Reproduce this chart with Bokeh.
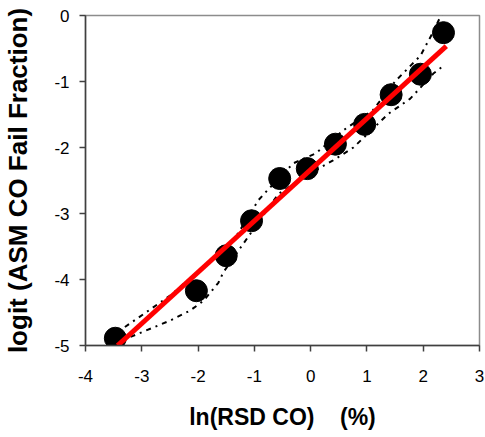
from bokeh.plotting import figure
from bokeh.models import Range1d, FixedTicker
from bokeh.embed import file_html
from bokeh.resources import INLINE

# data points
x_pts = [-3.47, -2.03, -1.50, -1.05, -0.55, -0.06, 0.44, 0.96, 1.43, 1.95, 2.36]
y_pts = [-4.89, -4.17, -3.64, -3.11, -2.47, -2.32, -1.95, -1.65, -1.20, -0.89, -0.26]

# fitted line
fit_x = [-3.43, 2.41]
fit_y = [-5.00, -0.465]

# confidence bands
upper_x = [-3.30, -2.49, -1.37, -0.93, -0.77, -0.31, 0.09, 0.58, 1.10, 1.51, 1.95, 2.17, 2.36]
upper_y = [-4.72, -4.24, -3.41, -2.80, -2.65, -2.24, -2.09, -1.74, -1.44, -0.99, -0.61, -0.26, 0.08]
lower_x = [-3.20, -2.49, -2.14, -1.90, -1.64, -1.55, -1.19, -0.57, 0.18, 0.39, 0.76, 1.38, 1.77, 2.18, 2.36]
lower_y = [-4.87, -4.62, -4.47, -4.32, -4.05, -3.89, -3.45, -2.70, -2.30, -2.20, -2.00, -1.49, -1.26, -0.88, -0.76]

x_ticks = [-4, -3, -2, -1, 0, 1, 2, 3]
x_labels = ["-4", "-3", "-2", "-1", "0", "1", "2", "3"]
y_ticks = [-5, -4, -3, -2, -1, 0]
y_labels = ["-5", "-4", "-3", "-2", "-1", "0"]

FONT = "Liberation Sans"

p = figure(width=485, height=437, output_backend="svg", toolbar_location=None,
           x_range=Range1d(-4, 3), y_range=Range1d(-5, 0),
           min_border_left=85, min_border_right=6, min_border_top=15, min_border_bottom=92)

p.background_fill_color = "white"
p.border_fill_color = "white"
p.outline_line_color = "#8c8c8c"
p.outline_line_width = 1.5
p.grid.visible = False

p.line(upper_x, upper_y, line_color="black", line_width=2, line_dash="5 5 2 5")
p.line(lower_x, lower_y, line_color="black", line_width=2, line_dash="5 5 2 5")
p.scatter(x_pts, y_pts, size=22, fill_color="black", line_color="black")
p.line(fit_x, fit_y, line_color="#ff0000", line_width=5)

for ax in (p.xaxis[0], p.yaxis[0]):
    ax.axis_line_color = "#404040"
    ax.axis_line_width = 1.5
    ax.major_tick_line_color = "#404040"
    ax.major_tick_line_width = 1.5
    ax.major_tick_out = 6
    ax.major_tick_in = 0
    ax.minor_tick_line_color = None
    ax.major_label_text_font = FONT
    ax.major_label_text_font_size = "17px"
    ax.major_label_text_color = "black"
    ax.axis_label_text_font = FONT
    ax.axis_label_text_font_style = "bold"
    ax.axis_label_text_color = "black"

p.xaxis[0].ticker = FixedTicker(ticks=x_ticks)
p.yaxis[0].ticker = FixedTicker(ticks=y_ticks)
p.xaxis[0].major_label_overrides = {t: s for t, s in zip(x_ticks, x_labels)}
p.yaxis[0].major_label_overrides = {t: s for t, s in zip(y_ticks, y_labels)}
p.xaxis[0].major_label_standoff = 18
p.yaxis[0].major_label_standoff = 10
p.xaxis[0].axis_label = "ln(RSD CO)\u00a0\u00a0\u00a0\u00a0(%)"
p.yaxis[0].axis_label = "logit (ASM CO Fail Fraction)"
p.xaxis[0].axis_label_text_font_size = "23px"
p.yaxis[0].axis_label_text_font_size = "26px"
p.xaxis[0].axis_label_standoff = 19
p.yaxis[0].axis_label_standoff = 18

open("out.html", "w").write(file_html(p, INLINE))
